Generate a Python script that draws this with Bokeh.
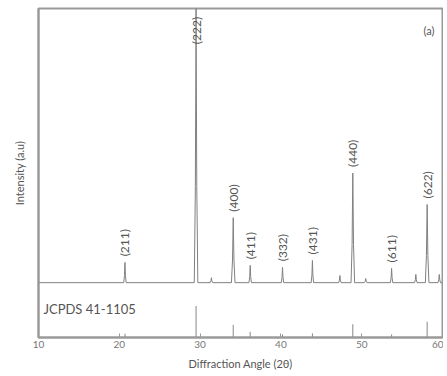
import numpy as np
from bokeh.plotting import figure
from bokeh.models import Range1d, FixedTicker, Label, ColumnDataSource
from bokeh.core.properties import value
from bokeh.embed import file_html
from bokeh.resources import INLINE

# ---- data ----
peak_pos = [20.7, 29.5, 34.1, 36.2, 40.2, 43.9, 48.9, 53.7, 58.1]
peak_int = [74, 1000, 237, 63, 56, 81, 400, 52, 285]
peak_hkl = ["(211)", "(222)", "(400)", "(411)", "(332)", "(431)", "(440)", "(611)", "(622)"]

minor_pos = [31.4, 47.3, 50.5, 56.7, 59.6]
minor_int = [18, 26, 15, 30, 30]

ref_pos = [20.7, 29.5, 34.1, 36.2, 40.2, 43.9, 48.9, 53.7, 58.1]
ref_int = [12, 100, 40, 18, 10, 13, 42, 10, 50]

x_ticks = [10, 20, 30, 40, 50, 60]

# ---- build spectrum polyline ----
pts = [(10.0, 0.0), (60.0, 0.0)]
for p_, h_ in list(zip(peak_pos, peak_int)) + list(zip(minor_pos, minor_int)):
    hw = 0.22 if h_ > 200 else 0.15
    pts += [(p_ - hw, 0.0), (p_ - hw * 0.4, h_ * 0.35), (p_, float(h_)),
            (p_ + hw * 0.4, h_ * 0.35), (p_ + hw, 0.0)]
pts.sort()
sx = [a for a, b in pts]
sy = [b for a, b in pts]

YMIN, YMAX = -200, 1000
FONT = "Lato"
TXT = "#555555"

p = figure(width=443, height=372, output_backend="svg", toolbar_location=None,
           x_range=Range1d(10, 60), y_range=Range1d(YMIN, YMAX),
           min_border_left=38, min_border_right=1, min_border_top=8, min_border_bottom=28)
p.background_fill_color = "white"
p.border_fill_color = "white"
p.outline_line_color = "#999999"
p.outline_line_width = 2
p.grid.visible = False

p.line(sx, sy, line_color="#808080", line_width=1)

# reference sticks
p.segment(x0=ref_pos, y0=[YMIN] * len(ref_pos), x1=ref_pos,
          y1=[YMIN + 1.15 * v for v in ref_int], line_color="#888888", line_width=1)

# peak labels
lab_y = np.minimum(np.array(peak_int) + 22, 870)
src = ColumnDataSource(dict(x=peak_pos, y=lab_y, t=peak_hkl))
p.text(x="x", y="y", text="t", source=src, angle=np.pi / 2, text_align="left",
       text_baseline="middle", text_font=value(FONT), text_font_size="12px", text_color=TXT)

p.add_layout(Label(x=10, y=-95, text="JCPDS 41-1105", text_font=FONT, text_font_size="13px",
                   text_color=TXT, text_baseline="middle", x_offset=5))
p.add_layout(Label(x=60, y=920, text="(a)", text_font=FONT, text_font_size="11px",
                   text_color=TXT, text_align="right", text_baseline="middle", x_offset=-8))

# axes
p.xaxis.ticker = FixedTicker(ticks=x_ticks, minor_ticks=[])
p.xaxis.axis_label = "Diffraction Angle (2θ)"
p.xaxis.axis_label_text_font = FONT
p.xaxis.axis_label_text_font_style = "normal"
p.xaxis.axis_label_text_font_size = "11px"
p.xaxis.axis_label_text_color = TXT
p.xaxis.axis_label_standoff = 6
p.xaxis.major_label_text_font = FONT
p.xaxis.major_label_text_font_size = "10px"
p.xaxis.major_label_text_color = "#777777"
p.xaxis.major_label_standoff = 3
p.xaxis.major_tick_in = 4
p.xaxis.major_tick_out = 0
p.xaxis.minor_tick_line_color = None
p.xaxis.axis_line_color = "#999999"
p.xaxis.axis_line_width = 2
p.xaxis.major_tick_line_color = "#999999"

p.yaxis.ticker = FixedTicker(ticks=[])
p.yaxis.axis_label = "Intensity (a.u)"
p.yaxis.axis_label_text_font = FONT
p.yaxis.axis_label_text_font_style = "normal"
p.yaxis.axis_label_text_font_size = "11px"
p.yaxis.axis_label_text_color = TXT
p.yaxis.axis_label_standoff = 13
p.yaxis.major_tick_out = 0
p.yaxis.major_tick_in = 0
p.yaxis.minor_tick_line_color = None
p.yaxis.axis_line_color = "#999999"
p.yaxis.axis_line_width = 2

open("out.html", "w").write(file_html(p, INLINE))
